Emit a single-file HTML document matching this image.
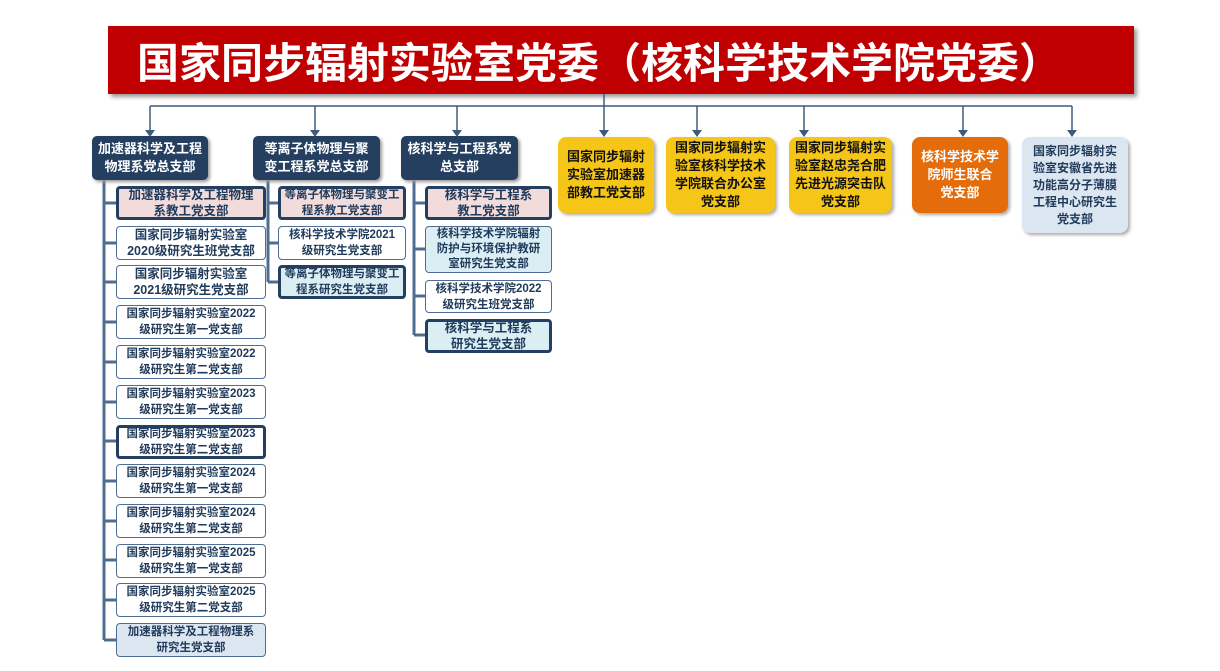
<!DOCTYPE html>
<html><head><meta charset="utf-8"><style>
body{margin:0;width:1220px;height:671px;background:#fff;position:relative;overflow:hidden;font-family:"Liberation Sans","Noto Sans CJK SC",sans-serif;}
.b{position:absolute;box-sizing:border-box;display:flex;align-items:center;justify-content:center;text-align:center;font-weight:bold;font-size:12.5px;line-height:16px;color:#1f3a5a;border-radius:4px;white-space:nowrap;}
.h{background:#243f60;color:#fff;font-size:13px;line-height:18px;border-radius:5px;box-shadow:2px 2px 3px #999;}
.w{background:#fff;border:1px solid #4f6d92;}
.p{background:#f2dcdb;border:3px solid #243f60;}
.tw{background:#fff;border:3px solid #243f60;}
.lb{background:#dbeef3;border:3px solid #243f60;}
.lt{background:#dbeef3;border:1px solid #4f6d92;}
.g{background:#dce6f1;border:1px solid #4f6d92;}
.y{background:#f5c518;color:#111;font-size:13px;line-height:18px;border-radius:8px;box-shadow:2px 2px 3px #aaa;}
.o{background:#e46c0a;color:#fff;font-size:13px;line-height:18px;border-radius:8px;box-shadow:2px 2px 3px #aaa;}
.lg{background:#dce6f1;color:#1f3a5a;font-size:12px;line-height:17px;border-radius:8px;box-shadow:2px 2px 3px #aaa;}
.s{font-size:11.5px;}
</style></head><body>
<div style="position:absolute;left:108px;top:26px;width:1026px;height:68px;box-sizing:border-box;padding-right:44px;background:#c00000;box-shadow:3px 3px 4px #999;color:#fff;font-weight:bold;font-size:42px;display:flex;align-items:center;justify-content:center;white-space:nowrap;">国家同步辐射实验室党委（核科学技术学院党委）</div>
<svg style="position:absolute;left:0;top:0" width="1220" height="671">
<g stroke="#3f5a7c" stroke-width="1.5" fill="none">
<line x1="604" y1="94" x2="604" y2="130"/>
<line x1="150" y1="106" x2="1072" y2="106"/>
<line x1="150" y1="106" x2="150" y2="132"/>
<line x1="315" y1="106" x2="315" y2="132"/>
<line x1="457" y1="106" x2="457" y2="132"/>
<line x1="697" y1="106" x2="697" y2="132"/>
<line x1="804" y1="106" x2="804" y2="132"/>
<line x1="963" y1="106" x2="963" y2="132"/>
<line x1="1072" y1="106" x2="1072" y2="132"/>
</g>
<g fill="#3f5a7c">
<polygon points="145,130 155,130 150,137"/><polygon points="310,130 320,130 315,137"/><polygon points="452,130 462,130 457,137"/><polygon points="599,130 609,130 604,137"/><polygon points="692,130 702,130 697,137"/><polygon points="799,130 809,130 804,137"/><polygon points="958,130 968,130 963,137"/><polygon points="1067,130 1077,130 1072,137"/>
</g>
<g stroke="#4f6d92" stroke-width="3" fill="none">
<line x1="104" y1="180" x2="104" y2="640"/>
<line x1="104" y1="203" x2="116" y2="203"/><line x1="104" y1="243" x2="116" y2="243"/><line x1="104" y1="282" x2="116" y2="282"/><line x1="104" y1="322" x2="116" y2="322"/><line x1="104" y1="362" x2="116" y2="362"/><line x1="104" y1="402" x2="116" y2="402"/><line x1="104" y1="441" x2="116" y2="441"/><line x1="104" y1="481" x2="116" y2="481"/><line x1="104" y1="521" x2="116" y2="521"/><line x1="104" y1="560" x2="116" y2="560"/><line x1="104" y1="600" x2="116" y2="600"/><line x1="104" y1="640" x2="116" y2="640"/>
<line x1="268" y1="180" x2="268" y2="282"/>
<line x1="268" y1="203" x2="278" y2="203"/><line x1="268" y1="243" x2="278" y2="243"/><line x1="268" y1="282" x2="278" y2="282"/>
<line x1="414" y1="180" x2="414" y2="335"/>
<line x1="414" y1="203" x2="425" y2="203"/><line x1="414" y1="249" x2="425" y2="249"/><line x1="414" y1="296" x2="425" y2="296"/><line x1="414" y1="335" x2="425" y2="335"/>
</g>
</svg>
<div class="b h" style="left:92px;top:136px;width:116px;height:44px;">加速器科学及工程<br>物理系党总支部</div>
<div class="b h" style="left:253px;top:136px;width:127px;height:44px;">等离子体物理与聚<br>变工程系党总支部</div>
<div class="b h" style="left:401px;top:136px;width:117px;height:44px;">核科学与工程系党<br>总支部</div>

<div class="b p" style="left:116px;top:186px;width:150px;height:34px;">加速器科学及工程物理<br>系教工党支部</div>
<div class="b w" style="left:116px;top:226px;width:150px;height:34px;">国家同步辐射实验室<br>2020级研究生班党支部</div>
<div class="b w" style="left:116px;top:265px;width:150px;height:34px;">国家同步辐射实验室<br>2021级研究生党支部</div>
<div class="b w s" style="left:116px;top:305px;width:150px;height:34px;">国家同步辐射实验室2022<br>级研究生第一党支部</div>
<div class="b w s" style="left:116px;top:345px;width:150px;height:34px;">国家同步辐射实验室2022<br>级研究生第二党支部</div>
<div class="b w s" style="left:116px;top:385px;width:150px;height:34px;">国家同步辐射实验室2023<br>级研究生第一党支部</div>
<div class="b tw s" style="left:116px;top:425px;width:150px;height:34px;">国家同步辐射实验室2023<br>级研究生第二党支部</div>
<div class="b w s" style="left:116px;top:464px;width:150px;height:34px;">国家同步辐射实验室2024<br>级研究生第一党支部</div>
<div class="b w s" style="left:116px;top:504px;width:150px;height:34px;">国家同步辐射实验室2024<br>级研究生第二党支部</div>
<div class="b w s" style="left:116px;top:544px;width:150px;height:34px;">国家同步辐射实验室2025<br>级研究生第一党支部</div>
<div class="b w s" style="left:116px;top:583px;width:150px;height:34px;">国家同步辐射实验室2025<br>级研究生第二党支部</div>
<div class="b g s" style="left:116px;top:623px;width:150px;height:34px;">加速器科学及工程物理系<br>研究生党支部</div>

<div class="b p s" style="left:278px;top:186px;width:128px;height:34px;">等离子体物理与聚变工<br>程系教工党支部</div>
<div class="b w s" style="left:278px;top:226px;width:128px;height:34px;">核科学技术学院2021<br>级研究生党支部</div>
<div class="b lb s" style="left:278px;top:265px;width:128px;height:34px;">等离子体物理与聚变工<br>程系研究生党支部</div>

<div class="b p" style="left:425px;top:186px;width:127px;height:34px;">核科学与工程系<br>教工党支部</div>
<div class="b lt s" style="left:425px;top:226px;width:127px;height:47px;line-height:15px;">核科学技术学院辐射<br>防护与环境保护教研<br>室研究生党支部</div>
<div class="b w s" style="left:425px;top:280px;width:127px;height:33px;">核科学技术学院2022<br>级研究生班党支部</div>
<div class="b lb" style="left:425px;top:319px;width:127px;height:34px;">核科学与工程系<br>研究生党支部</div>

<div class="b y" style="left:558px;top:137px;width:96px;height:76px;">国家同步辐射<br>实验室加速器<br>部教工党支部</div>
<div class="b y" style="left:666px;top:137px;width:109px;height:76px;">国家同步辐射实<br>验室核科学技术<br>学院联合办公室<br>党支部</div>
<div class="b y" style="left:789px;top:137px;width:103px;height:76px;">国家同步辐射实<br>验室赵忠尧合肥<br>先进光源突击队<br>党支部</div>
<div class="b o" style="left:912px;top:137px;width:96px;height:76px;">核科学技术学<br>院师生联合<br>党支部</div>
<div class="b lg" style="left:1022px;top:137px;width:106px;height:96px;">国家同步辐射实<br>验室安徽省先进<br>功能高分子薄膜<br>工程中心研究生<br>党支部</div>
</body></html>
